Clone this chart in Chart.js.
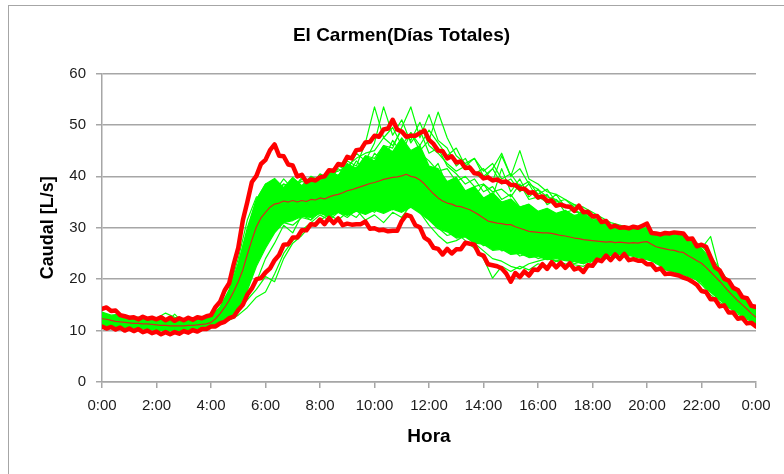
<!DOCTYPE html>
<html>
<head>
<meta charset="utf-8">
<title>El Carmen</title>
<script src="https://cdn.jsdelivr.net/npm/chart.js@4"></script>
<style>
  html, body { margin: 0; padding: 0; background: #fff; }
  #wrap { position: relative; width: 784px; height: 474px; overflow: hidden; }
  #frame { position: absolute; left: 8px; top: 5px; width: 800px; height: 500px;
           border-left: 1px solid #a6a6a6; border-top: 1px solid #a6a6a6; }
  canvas { position: absolute; left: 0; top: 0; }
</style>
</head>
<body>
<div id="wrap">
  <div id="frame"></div>
  <canvas id="chart" width="784" height="474"></canvas>
</div>
<script>
// x axis labels, one every 2 hours
const hourLabels = ['0:00', '2:00', '4:00', '6:00', '8:00', '10:00', '12:00',
                    '14:00', '16:00', '18:00', '20:00', '22:00', '0:00'];

// envelope and mean, one value every 10 minutes (L/s)
const upperEnv = [
  14.2, 14.5, 13.8, 13.9, 13.0, 12.8, 12.5, 12.6, 12.2, 12.7, 12.3, 12.5,
  12.2, 12.6, 12.0, 12.5, 11.9, 12.4, 12.0, 12.5, 12.1, 12.6, 12.4, 12.8,
  13.0, 14.6, 15.6, 17.8, 19.2, 22.9, 26.1, 31.4, 35.0, 38.9, 40.1, 42.4,
  43.2, 45.1, 46.2, 44.0, 43.9, 42.3, 42.1, 40.0, 40.3, 38.9, 39.4, 39.2,
  39.8, 40.0, 41.2, 41.1, 42.4, 42.2, 43.8, 43.5, 45.1, 45.2, 46.6, 46.7,
  47.9, 47.7, 49.1, 49.3, 51.0, 49.1, 48.7, 47.7, 47.9, 47.9, 48.4, 48.9,
  47.1, 46.3, 45.0, 44.9, 43.5, 43.9, 42.7, 42.9, 41.6, 41.7, 40.6, 40.5,
  39.6, 39.8, 39.2, 39.4, 38.9, 39.0, 38.3, 38.3, 37.6, 37.6, 36.8, 36.9,
  35.9, 36.1, 35.2, 35.3, 34.3, 34.5, 34.2, 34.1, 33.3, 34.3, 33.0, 33.1,
  32.2, 32.3, 31.1, 31.3, 30.1, 30.4, 30.0, 30.1, 29.9, 30.2, 30.0, 30.4,
  30.8, 29.0, 28.9, 28.7, 29.0, 28.9, 29.1, 29.0, 28.9, 27.8, 27.9, 26.4,
  26.7, 26.3, 24.3, 22.3, 21.7, 20.1, 19.7, 18.3, 17.9, 16.5, 16.3, 14.8,
  14.6
];
const lowerEnv = [
  10.8, 10.4, 10.7, 10.2, 10.6, 10.0, 10.4, 9.9, 10.3, 9.7, 10.0, 9.5,
  9.8, 9.3, 9.7, 9.3, 9.7, 9.4, 9.9, 9.6, 10.1, 9.8, 10.3, 10.3,
  10.8, 10.8, 11.4, 11.7, 12.4, 12.7, 14.0, 15.0, 17.0, 18.2, 20.0, 20.2,
  21.3, 22.1, 23.7, 24.7, 26.7, 26.8, 28.1, 28.1, 29.5, 29.5, 30.7, 30.6,
  31.6, 30.7, 31.9, 30.9, 31.8, 30.5, 30.8, 30.6, 30.7, 30.7, 31.2, 29.8,
  29.9, 29.5, 29.6, 29.3, 29.4, 29.4, 31.3, 32.5, 32.2, 30.5, 30.1, 28.1,
  27.5, 26.1, 25.9, 24.8, 25.9, 25.0, 25.8, 25.8, 27.1, 26.9, 26.7, 24.9,
  24.6, 22.9, 22.7, 22.5, 22.1, 21.1, 19.5, 21.2, 20.4, 21.5, 20.7, 21.9,
  21.8, 22.9, 22.0, 23.3, 22.3, 23.2, 22.2, 23.1, 21.9, 22.2, 21.4, 22.7,
  22.6, 23.8, 23.5, 24.6, 23.7, 24.8, 23.9, 24.9, 23.7, 23.9, 23.6, 23.6,
  22.9, 22.9, 21.8, 22.1, 21.0, 21.1, 20.9, 20.7, 20.3, 20.0, 19.5, 18.9,
  17.7, 17.5, 16.1, 16.1, 14.7, 14.9, 13.5, 13.5, 12.3, 12.5, 11.4, 11.5,
  10.8
];
const meanFlow = [
  12.3, 12.2, 12.0, 11.8, 11.7, 11.6, 11.5, 11.4, 11.4, 11.3, 11.3, 11.2,
  11.1, 11.0, 11.0, 10.9, 10.9, 10.9, 10.9, 11.0, 11.0, 11.1, 11.2, 11.3,
  11.6, 12.3, 13.3, 14.5, 15.9, 17.6, 19.5, 21.8, 24.8, 27.6, 30.2, 31.9,
  33.0, 34.0, 34.6, 34.8, 35.2, 35.0, 35.3, 35.0, 35.3, 35.1, 35.5, 35.4,
  35.8, 35.6, 36.0, 36.3, 36.5, 36.8, 37.2, 37.4, 37.7, 38.0, 38.3, 38.6,
  38.8, 39.1, 39.4, 39.6, 39.8, 39.9, 40.1, 40.4, 40.0, 39.8, 39.3, 38.5,
  37.5, 36.6, 35.8, 35.2, 34.8, 34.6, 34.2, 34.1, 33.8, 33.5, 33.0, 32.5,
  31.9, 31.3, 31.1, 30.9, 30.8, 30.6, 30.6, 30.2, 29.9, 29.6, 29.3, 29.2,
  29.1, 29.0, 29.0, 28.9, 28.7, 28.5, 28.4, 28.2, 28.0, 27.9, 27.7, 27.6,
  27.5, 27.4, 27.3, 27.2, 27.3, 27.1, 27.2, 27.1, 27.0, 27.1, 27.0, 27.2,
  27.3, 26.8, 26.3, 26.1, 25.9, 25.7, 25.6, 25.3, 25.2, 24.6, 24.1, 23.6,
  23.1, 22.3, 21.4, 20.5, 19.6, 18.6, 17.6, 16.7, 15.8, 15.0, 14.2, 13.3,
  12.6
];

// daily curves, one value every 20 minutes
// bandTop / bandBottom bound the bulk of the days
const bandTop = [
  13.6, 13.0, 13.2, 12.4, 12.6, 12.1,
  12.4, 12.0, 12.5, 11.9, 12.3, 12.1,
  12.8, 14.6, 17.8, 23.0, 29.5, 35.5,
  38.5, 39.6, 37.8, 39.8, 38.2, 40.0,
  39.2, 41.0, 40.2, 42.4, 41.6, 44.0,
  43.0, 46.0, 44.8, 47.5, 45.0, 46.0,
  42.0, 41.5, 39.0, 39.8, 37.2, 38.0,
  35.8, 36.8, 35.0, 35.6, 34.0, 34.6,
  33.2, 33.8, 32.8, 33.4, 32.4, 32.8,
  31.6, 31.4, 30.2, 30.0, 29.6, 29.8,
  30.0, 28.4, 28.6, 28.8, 28.4, 27.2,
  25.8, 23.8, 21.4, 19.4, 17.6, 15.8,
  14.2
];
const bandBottom = [
  11.0, 10.8, 10.9, 10.6, 10.6, 10.3,
  10.2, 10.0, 10.1, 10.2, 10.3, 10.6,
  11.0, 11.6, 12.6, 14.4, 17.8, 22.5,
  26.0, 29.0, 31.0, 31.4, 32.2, 32.0,
  32.8, 32.2, 33.0, 32.4, 33.2, 32.6,
  33.4, 32.8, 33.6, 33.0, 34.0, 32.8,
  31.5, 29.8, 29.2, 28.0, 28.2, 27.0,
  26.8, 25.6, 25.8, 24.8, 25.0, 24.2,
  24.4, 23.8, 24.0, 23.6, 23.4, 23.0,
  23.6, 24.2, 24.6, 24.8, 24.6, 24.2,
  23.8, 23.2, 21.8, 21.4, 20.8, 20.2,
  19.4, 17.6, 16.0, 14.6, 13.5, 12.5,
  11.5
];
const day1 = [
  12.8, 12.5, 12.2, 12.0, 11.8, 12.1,
  12.4, 13.4, 12.6, 11.9, 12.0, 12.2,
  12.5, 14.0, 17.5, 23.0, 30.0, 35.5,
  38.5, 37.0, 39.5, 37.5, 39.8, 38.2,
  40.5, 39.5, 42.0, 41.2, 44.5, 43.0,
  46.5, 53.5, 48.0, 51.0, 46.5, 49.0,
  44.5, 45.5, 42.0, 40.5, 38.5, 39.5,
  37.0, 38.0, 35.5, 36.5, 34.0, 34.5,
  33.0, 33.5, 32.0, 32.5, 31.0, 31.5,
  30.5, 30.0, 29.0, 29.5, 28.5, 29.0,
  28.5, 27.5, 27.0, 27.5, 26.5, 26.0,
  24.5, 22.5, 20.5, 18.5, 17.0, 15.0,
  13.5
];
const day2 = [
  12.0, 11.8, 11.5, 11.3, 11.1, 11.2,
  11.0, 11.3, 13.2, 11.4, 11.2, 11.5,
  12.0, 13.2, 15.5, 19.5, 26.0, 32.5,
  36.0, 39.0, 36.5, 38.0, 36.8, 38.5,
  37.5, 40.0, 39.0, 42.5, 41.0, 44.0,
  43.5, 46.0, 45.5, 49.5, 53.5, 47.5,
  52.0, 47.0, 45.5, 42.0, 43.5, 40.5,
  41.5, 39.0, 44.0, 40.0, 41.5, 38.5,
  37.5, 36.0, 35.5, 34.0, 33.5, 32.0,
  31.5, 30.5, 29.5, 29.0, 28.5, 28.0,
  28.5, 27.0, 26.0, 26.5, 25.5, 25.0,
  23.5, 21.0, 19.5, 17.5, 16.0, 14.5,
  13.0
];
const day3 = [
  11.5, 11.0, 10.8, 10.6, 10.5, 10.3,
  10.2, 10.0, 10.1, 10.2, 10.4, 10.6,
  11.0, 11.4, 12.0, 13.0, 14.5, 16.5,
  17.5, 21.0, 25.0, 27.5, 29.5, 31.0,
  32.5, 31.5, 33.0, 32.0, 33.5, 31.5,
  32.5, 31.0, 33.0, 32.0, 34.5, 33.0,
  30.5, 28.5, 27.0, 27.5, 28.5, 27.0,
  25.5, 24.0, 23.5, 22.5, 22.0, 23.0,
  23.5, 24.0, 23.5, 24.0, 23.5, 23.0,
  24.0, 24.5, 25.5, 25.0, 25.5, 24.5,
  24.0, 23.5, 22.0, 21.5, 21.0, 20.5,
  19.0, 17.0, 15.5, 14.5, 13.2, 12.2,
  11.3
];
const day4 = [
  11.8, 11.4, 11.2, 11.0, 10.8, 10.7,
  10.6, 10.5, 10.4, 10.6, 10.8, 11.0,
  11.4, 12.0, 13.0, 14.5, 16.5, 19.5,
  24.0, 27.0, 30.5, 29.0, 32.5, 31.5,
  34.5, 33.0, 35.5, 34.0, 36.5, 35.0,
  37.5, 36.0, 38.5, 37.0, 39.0, 36.5,
  35.0, 33.5, 32.0, 31.5, 30.5, 30.0,
  28.5, 29.5, 27.5, 28.5, 27.0, 27.5,
  26.5, 27.0, 26.0, 26.5, 25.5, 26.0,
  26.5, 27.0, 26.5, 27.5, 27.0, 26.5,
  27.0, 25.5, 24.5, 24.0, 23.5, 22.5,
  21.0, 19.5, 17.5, 16.0, 14.8, 13.5,
  12.2
];
const day5 = [
  12.4, 12.0, 11.6, 11.4, 11.2, 11.0,
  10.9, 10.8, 10.8, 10.9, 11.0, 11.2,
  11.6, 12.8, 15.0, 18.5, 23.5, 29.0,
  33.0, 34.5, 33.0, 35.0, 33.5, 35.5,
  34.0, 36.0, 34.5, 36.5, 35.0, 37.0,
  35.5, 37.5, 36.0, 38.0, 36.5, 35.0,
  32.5, 30.0, 28.5, 29.0, 27.5, 26.0,
  24.0, 20.2, 22.5, 21.5, 22.5, 21.8,
  23.0, 22.5, 23.5, 23.0, 22.8, 22.5,
  23.5, 24.5, 24.0, 25.0, 24.5, 25.0,
  24.5, 23.0, 22.5, 21.5, 21.0, 20.5,
  19.0, 17.5, 16.0, 14.5, 13.5, 12.5,
  11.5
];
const day6 = [
  13.0, 12.6, 12.4, 12.2, 12.0, 11.9,
  11.8, 11.9, 12.0, 12.1, 12.3, 12.4,
  12.8, 14.5, 18.0, 24.0, 31.5, 36.0,
  35.5, 38.0, 36.0, 39.0, 37.0, 40.0,
  38.5, 41.5, 40.0, 43.0, 42.0, 46.5,
  53.5, 47.5, 49.5, 46.0, 48.5, 45.0,
  47.0, 52.5, 47.5, 44.0, 42.5, 43.5,
  40.0, 41.5, 38.5, 39.5, 37.0, 38.5,
  35.5, 36.5, 34.0, 34.5, 33.0, 33.0,
  32.0, 31.0, 30.0, 30.0, 29.5, 29.5,
  29.5, 28.0, 28.5, 28.5, 28.0, 27.0,
  26.0, 24.0, 21.5, 19.0, 17.5, 15.5,
  14.0
];
const day7 = [
  12.6, 12.3, 12.0, 11.8, 11.6, 11.5,
  11.4, 11.3, 11.2, 11.3, 11.4, 11.6,
  12.0, 13.6, 16.5, 21.0, 27.5, 33.0,
  36.5, 35.0, 37.5, 36.0, 37.0, 36.0,
  37.5, 37.0, 38.5, 38.0, 39.5, 39.0,
  41.0, 40.0, 42.5, 41.5, 42.0, 40.5,
  38.5, 37.5, 36.0, 36.5, 35.0, 36.0,
  38.5, 36.0, 41.5, 37.0, 39.5, 36.0,
  37.5, 34.5, 35.5, 33.0, 33.5, 32.5,
  31.0, 30.0, 29.0, 28.0, 28.5, 27.5,
  28.0, 27.5, 27.5, 28.0, 27.0, 26.5,
  26.0, 28.3, 21.5, 19.5, 17.5, 15.0,
  13.2
];
const day8 = [
  11.6, 11.2, 11.0, 10.9, 10.7, 10.6,
  10.4, 10.3, 10.3, 10.4, 10.6, 10.8,
  11.2, 12.2, 14.0, 17.0, 21.5, 26.0,
  28.5, 30.0, 31.0, 30.5, 32.0, 31.5,
  33.0, 32.0, 33.5, 32.5, 34.0, 33.0,
  34.5, 33.5, 35.0, 34.0, 36.0, 34.5,
  33.0, 31.5, 30.5, 31.0, 29.5, 30.0,
  28.0, 27.0, 26.0, 26.5, 25.0, 25.5,
  25.0, 25.5, 24.5, 25.0, 24.5, 24.5,
  25.5, 25.5, 26.0, 26.0, 25.5, 26.0,
  25.5, 24.5, 23.5, 23.0, 22.5, 22.0,
  20.5, 18.5, 17.0, 15.5, 14.2, 13.0,
  11.9
];
const day9 = [
  12.2, 12.0, 11.8, 11.6, 11.5, 11.4,
  11.3, 11.2, 11.4, 11.3, 11.5, 11.7,
  12.2, 13.4, 16.0, 20.5, 27.0, 33.5,
  37.0, 36.0, 38.5, 37.0, 39.5, 38.0,
  40.0, 39.0, 41.5, 40.0, 43.0, 41.0,
  44.5, 43.0, 47.0, 44.5, 48.5, 46.0,
  49.0, 46.5, 44.0, 45.5, 42.0, 43.5,
  41.0, 42.5, 39.5, 40.5, 38.0, 39.0,
  36.5, 37.5, 35.0, 35.5, 34.0, 33.5,
  32.5, 31.5, 30.5, 30.0, 29.5, 29.0,
  29.0, 28.0, 27.5, 28.0, 27.5, 26.5,
  25.5, 23.5, 21.0, 19.0, 17.0, 15.5,
  13.8
];
const day10 = [
  12.0, 11.7, 11.6, 11.4, 11.2, 11.3,
  11.1, 11.0, 11.2, 11.3, 11.1, 11.4,
  11.8, 13.0, 15.5, 20.0, 26.5, 32.0,
  35.5, 37.5, 35.5, 38.5, 36.0, 38.0,
  36.5, 39.5, 37.5, 41.0, 38.5, 42.5,
  39.5, 44.0, 41.0, 45.5, 42.5, 44.0,
  40.5, 42.5, 38.0, 39.5, 36.5, 37.5,
  35.0, 36.5, 33.5, 35.0, 32.5, 34.0,
  31.5, 33.0, 30.5, 32.0, 30.0, 31.0,
  29.0, 29.5, 28.0, 28.5, 27.5, 28.0,
  27.5, 27.0, 26.0, 26.5, 25.5, 25.0,
  24.0, 22.0, 20.0, 18.0, 16.5, 14.8,
  13.0
];
const day11 = [
  11.4, 11.0, 10.8, 10.7, 10.5, 10.4,
  10.3, 10.2, 10.2, 10.3, 10.5, 10.7,
  11.1, 11.8, 13.5, 16.0, 20.0, 25.5,
  30.0, 33.0, 32.0, 34.0, 33.0, 34.5,
  33.5, 35.0, 33.5, 35.5, 34.0, 36.0,
  35.0, 37.0, 35.5, 38.0, 36.5, 37.5,
  34.5, 33.0, 31.5, 32.0, 30.5, 31.0,
  29.5, 30.0, 28.5, 29.0, 27.5, 28.0,
  27.0, 27.5, 26.5, 27.0, 26.5, 26.5,
  26.0, 26.5, 25.5, 26.0, 26.5, 26.5,
  26.0, 25.0, 24.0, 23.5, 23.0, 22.5,
  21.0, 19.0, 17.5, 16.0, 14.5, 13.2,
  12.0
];
const day12 = [
  12.5, 12.2, 12.0, 11.8, 11.7, 11.6,
  11.5, 11.4, 11.5, 11.6, 11.7, 11.8,
  12.3, 13.8, 16.8, 21.5, 28.0, 34.0,
  37.5, 38.5, 37.0, 38.5, 37.5, 39.0,
  38.0, 40.0, 38.5, 41.0, 39.5, 42.0,
  41.0, 43.5, 42.0, 44.5, 43.0, 44.5,
  43.0, 41.0, 41.5, 39.0, 40.0, 38.0,
  38.5, 37.0, 37.5, 36.0, 38.5, 35.5,
  36.0, 35.0, 36.5, 34.0, 34.5, 33.0,
  32.0, 31.0, 30.5, 29.5, 29.0, 29.0,
  29.0, 28.5, 28.0, 28.0, 27.5, 26.5,
  25.5, 23.5, 21.0, 19.0, 17.0, 15.2,
  13.6
];
const day13 = [
  11.2, 10.9, 10.7, 10.5, 10.4, 10.2,
  10.1, 9.9, 10.0, 10.1, 10.3, 10.5,
  10.9, 11.5, 12.5, 14.0, 16.0, 18.0,
  20.5, 19.5, 24.0, 27.0, 28.5, 30.5,
  31.5, 32.5, 31.5, 33.0, 32.0, 34.0,
  33.0, 35.0, 33.5, 36.0, 34.5, 35.5,
  33.0, 31.0, 29.5, 30.0, 29.0, 28.0,
  26.5, 27.0, 25.5, 26.0, 24.5, 25.0,
  24.0, 24.5, 23.5, 24.0, 23.0, 23.5,
  24.5, 25.0, 25.5, 25.5, 25.0, 25.0,
  24.5, 24.0, 22.5, 22.0, 21.5, 21.0,
  19.5, 17.5, 16.0, 14.8, 13.5, 12.4,
  11.4
];
const day14 = [
  12.7, 12.4, 12.1, 11.9, 11.8, 11.7,
  11.6, 11.6, 11.7, 11.8, 11.9, 12.1,
  12.6, 14.2, 17.5, 22.5, 29.0, 34.5,
  38.0, 37.0, 38.5, 38.0, 39.0, 38.5,
  40.0, 40.5, 41.0, 42.0, 43.5, 44.5,
  45.0, 47.5, 46.0, 49.0, 47.0, 50.5,
  46.0, 44.5, 42.5, 41.0, 42.0, 40.5,
  39.5, 41.5, 44.5, 40.0, 45.0, 39.5,
  38.5, 37.0, 36.5, 35.5, 34.5, 34.0,
  33.0, 32.0, 31.0, 30.5, 30.0, 29.5,
  30.0, 28.5, 28.5, 29.0, 28.5, 27.5,
  26.5, 24.5, 22.0, 19.5, 17.5, 15.5,
  14.0
];

const FONT = "'Liberation Sans', Arial, sans-serif";
const RED = '#ff0000';
const GREEN = '#00ff00';
const GRID = '#a6a6a6';

// values -> {x: hour, y}
function toPoints(values, stepHours) {
    return values.map((v, i) => ({ x: i * stepHours, y: v }));
}

const days = [day1, day2, day3, day4, day5, day6, day7,
              day8, day9, day10, day11, day12, day13, day14];

const datasets = [];
datasets.push({ data: toPoints(upperEnv, 1 / 6), borderColor: RED, borderWidth: 4.5, order: 0 });
datasets.push({ data: toPoints(lowerEnv, 1 / 6), borderColor: RED, borderWidth: 4.5, order: 0 });
datasets.push({ data: toPoints(meanFlow, 1 / 6), borderColor: '#d9261c', borderWidth: 1.2, order: 1 });
days.forEach(d => {
    datasets.push({ data: toPoints(d, 1 / 3), borderColor: GREEN, borderWidth: 1.2, order: 2 });
});
datasets.push({ data: toPoints(bandTop, 1 / 3), borderColor: GREEN, borderWidth: 1.2,
                backgroundColor: GREEN, fill: '+1', order: 3 });
datasets.push({ data: toPoints(bandBottom, 1 / 3), borderColor: GREEN, borderWidth: 1.2, order: 3 });

new Chart(document.getElementById('chart'), {
    type: 'line',
    data: { datasets: datasets },
    options: {
        responsive: false,
        animation: false,
        devicePixelRatio: 1,
        layout: { padding: { left: 19, right: 0, top: 0, bottom: 0 } },
        elements: {
            point: { radius: 0 },
            line: { tension: 0, borderJoinStyle: 'round', borderCapStyle: 'round', fill: false }
        },
        plugins: {
            legend: { display: false },
            tooltip: { enabled: false },
            title: {
                display: true,
                text: 'El Carmen(Días Totales)',
                color: '#000',
                font: { family: FONT, size: 19, weight: 'bold' },
                padding: { top: 24, bottom: 26.7 }
            }
        },
        scales: {
            x: {
                type: 'linear',
                min: 0,
                max: 24,
                ticks: {
                    stepSize: 2,
                    autoSkip: false,
                    maxRotation: 0,
                    padding: 9,
                    color: '#1c1c1c',
                    font: { family: FONT, size: 15 },
                    callback: v => hourLabels[v / 2]
                },
                grid: { drawOnChartArea: false, tickLength: 6, color: GRID, lineWidth: 1.5 },
                border: { color: GRID, width: 1.5 },
                title: {
                    display: true,
                    text: 'Hora',
                    color: '#000',
                    font: { family: FONT, size: 19, weight: 'bold' },
                    padding: { top: 0, bottom: 26 }
                },
                afterFit(scale) {
                    scale.height = 92;
                    scale.paddingLeft = 0;
                    scale.paddingRight = 28;
                }
            },
            y: {
                min: 0,
                max: 60,
                ticks: {
                    stepSize: 10,
                    padding: 10,
                    color: '#1c1c1c',
                    font: { family: FONT, size: 15 }
                },
                grid: { color: GRID, lineWidth: 1.5, tickLength: 6 },
                border: { color: GRID, width: 1.5 },
                title: {
                    display: true,
                    text: 'Caudal [L/s]',
                    color: '#000',
                    font: { family: FONT, size: 18, weight: 'bold' },
                    padding: { top: 18, bottom: 0 }
                },
                afterFit(scale) {
                    scale.width = 83;
                    scale.paddingTop = 0;
                    scale.paddingBottom = 0;
                }
            }
        }
    }
});
</script>
</body>
</html>
